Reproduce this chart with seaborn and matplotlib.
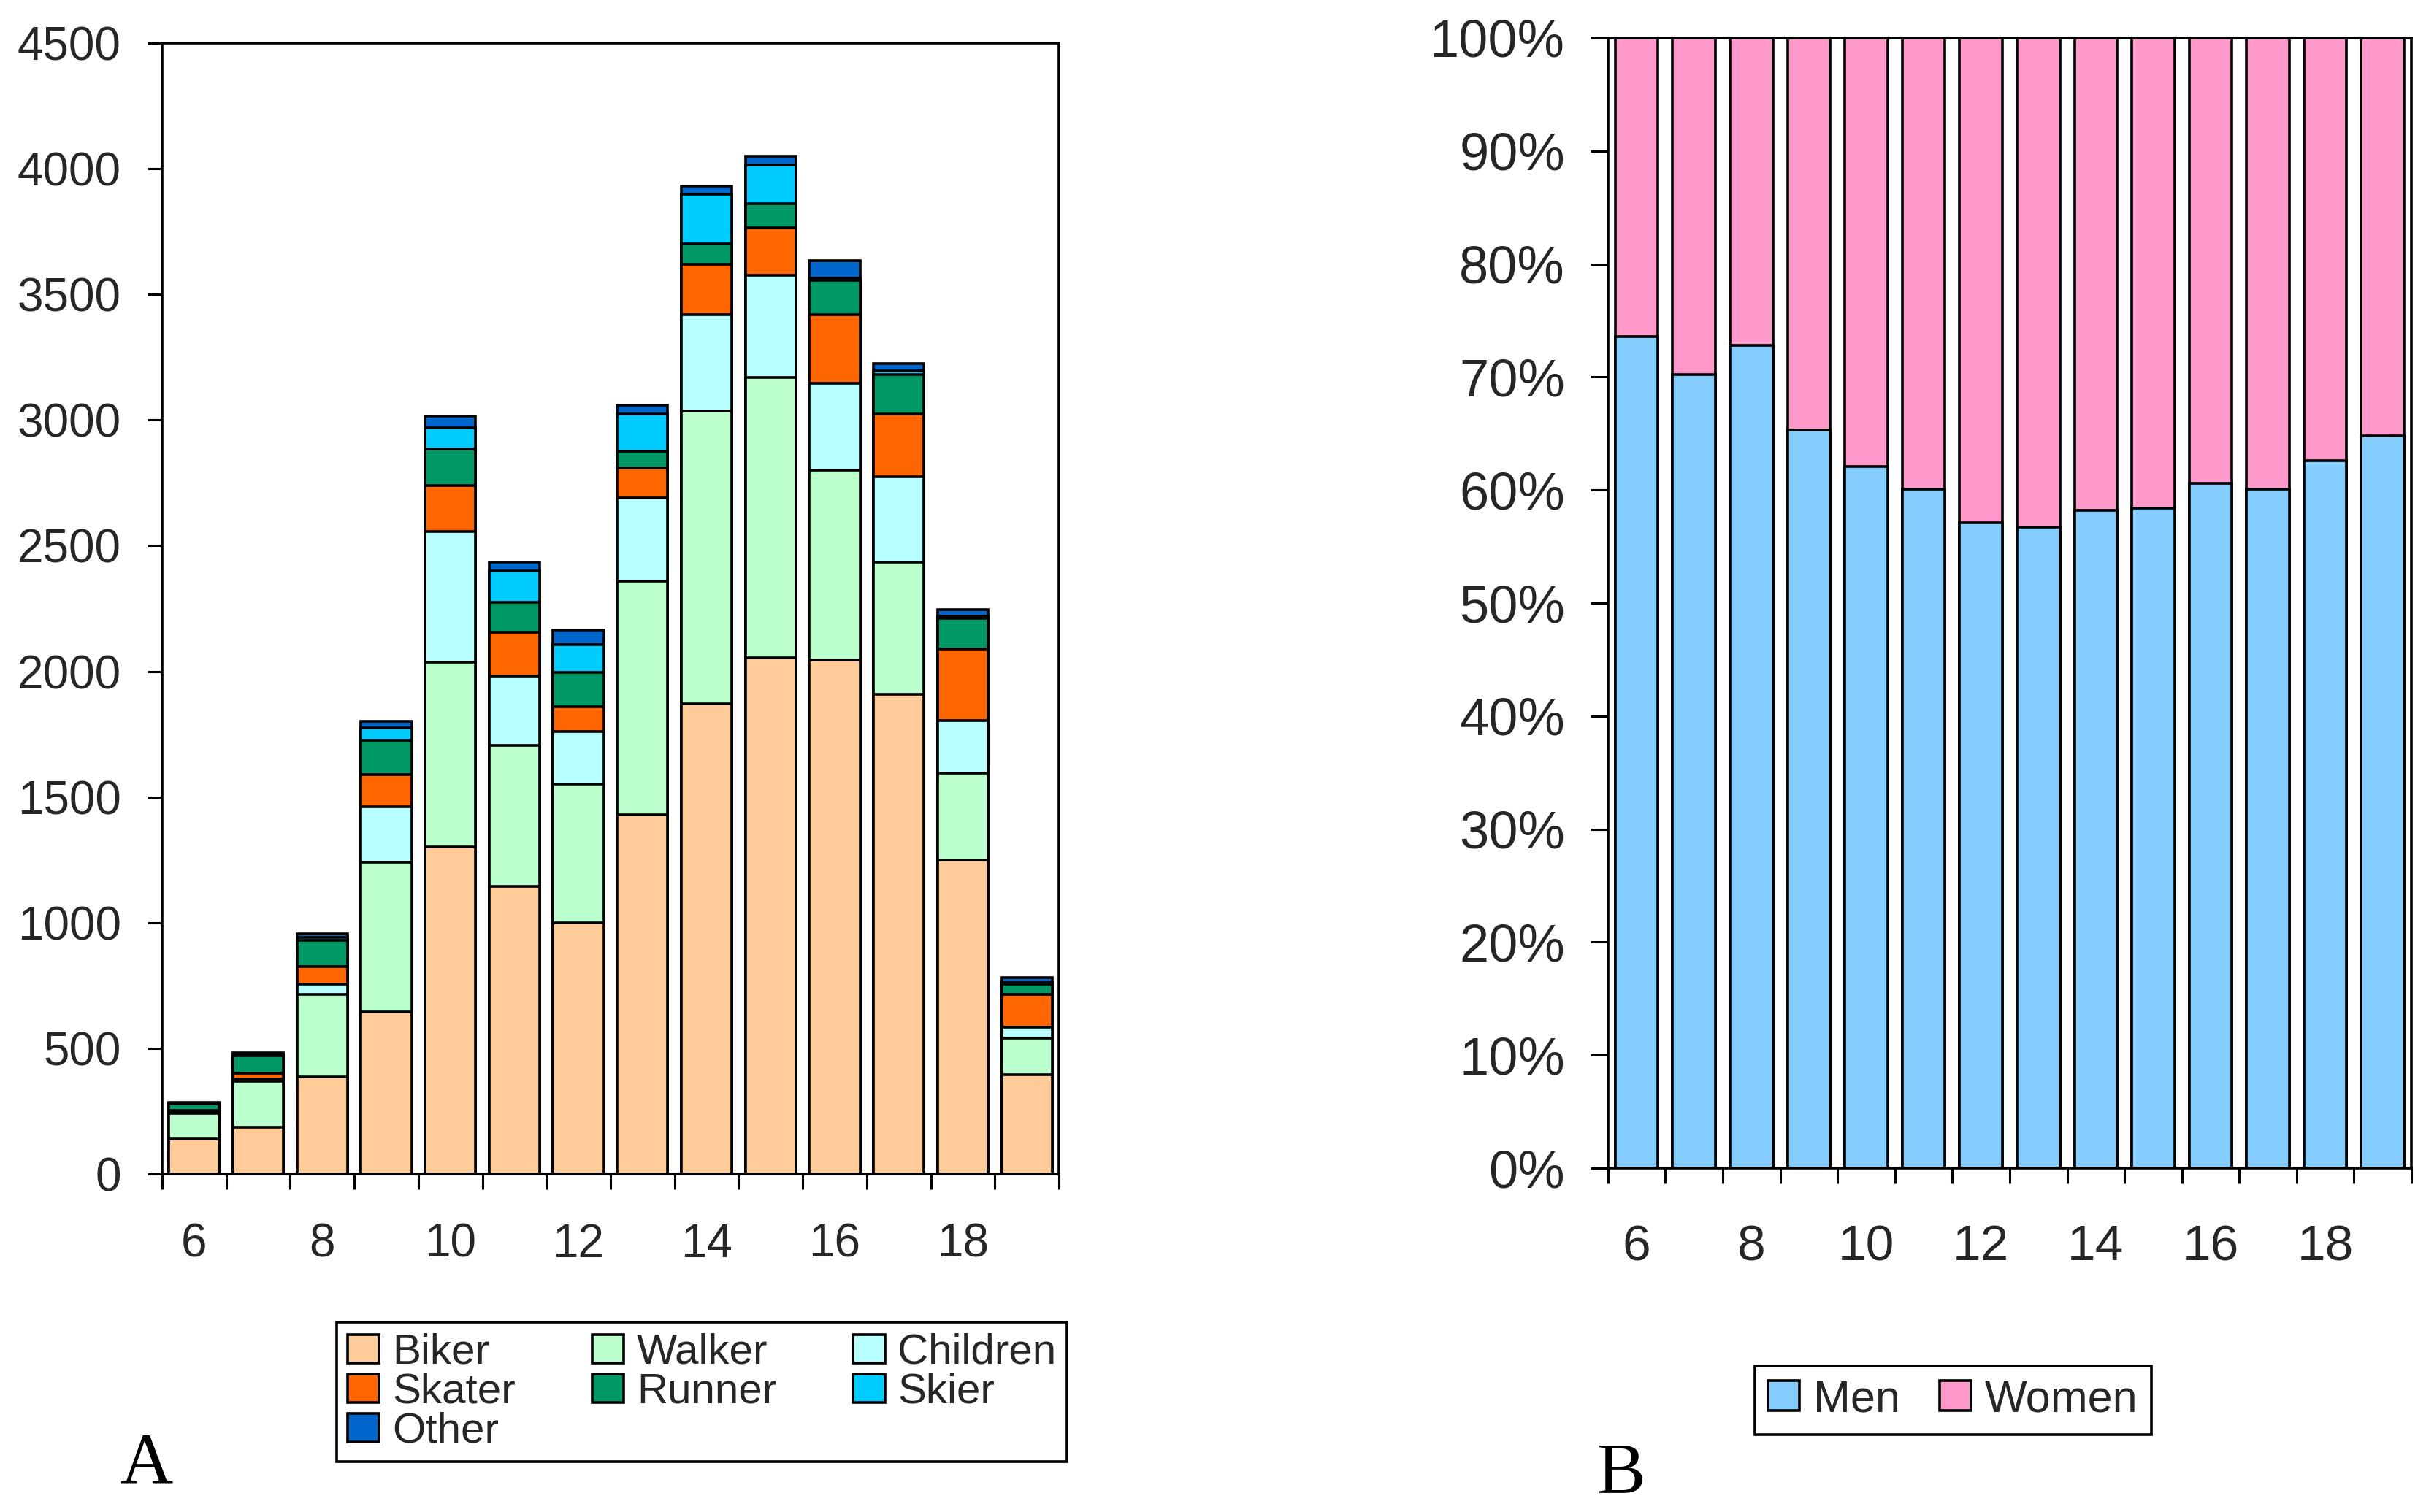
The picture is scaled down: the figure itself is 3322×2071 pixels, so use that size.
import numpy as np
import matplotlib
matplotlib.use("Agg")
import matplotlib.pyplot as plt
import seaborn as sns
from matplotlib.patches import Patch

# ---------------- data ----------------
hours = [6, 7, 8, 9, 10, 11, 12, 13, 14, 15, 16, 17, 18, 19]
hour_labels = [str(h) for h in hours]
shown_hour_labels = ["6", "8", "10", "12", "14", "16", "18"]

categories = ["Biker", "Walker", "Children", "Skater", "Runner", "Skier", "Other"]
biker    = [140, 185, 385, 645, 1300, 1145, 1000, 1430, 1870, 2055, 2045, 1910, 1250, 395]
walker   = [100, 185, 330, 595,  735,  560,  550,  930, 1165, 1115,  755,  525,  345, 145]
children = [  5,   8,  40, 220,  520,  275,  210,  330,  385,  405,  345,  340,  210,  45]
skater   = [  7,  24,  70, 130,  185,  175,  100,  120,  200,  190,  275,  250,  285, 130]
runner   = [ 26,  67, 105, 135,  145,  120,  135,   65,   80,   95,  135,  155,  120,  40]
skier    = [  2,   4,  10,  50,   85,  125,  110,  150,  200,  155,   10,   15,   10,   5]
other    = [  4,   8,  15,  25,   45,   35,   60,   35,   30,   35,   70,   30,   25,  20]
cat_colors = ["#FFCC99", "#BBFFCC", "#B8FFFF", "#FF6600", "#009966", "#00CCFF", "#0066CC"]

yticks_A = [0, 500, 1000, 1500, 2000, 2500, 3000, 3500, 4000, 4500]

sex_groups = ["Men", "Women"]
men   = [73.6, 70.2, 72.8, 65.3, 62.1, 60.1, 57.1, 56.7, 58.2, 58.4, 60.6, 60.1, 62.6, 64.8]
women = [26.4, 29.8, 27.2, 34.7, 37.9, 39.9, 42.9, 43.3, 41.8, 41.6, 39.4, 39.9, 37.4, 35.2]
sex_colors = ["#85CDFF", "#FF99CC"]
yticks_B = [0, 10, 20, 30, 40, 50, 60, 70, 80, 90, 100]
yticklabels_B = [f"{v}%" for v in yticks_B]

# ---------------- style ----------------
sns.set_theme(style="white")
plt.rcParams["font.family"] = ["Liberation Sans", "DejaVu Sans"]
plt.rcParams["axes.edgecolor"] = "black"
plt.rcParams["axes.linewidth"] = 1.3

fig = plt.figure(figsize=(16.61, 10.355), dpi=200)
axA = fig.add_axes([0.0668, 0.2236, 0.3697, 0.7479])
axB = fig.add_axes([0.6628, 0.2274, 0.3312, 0.7475])

EDGE_LW = 1.3

# ---------------- panel A: stacked counts ----------------
series = [biker, walker, children, skater, runner, skier, other]
cum = np.cumsum(np.array(series, dtype=float), axis=0)
for i in reversed(range(len(series))):
    sns.barplot(x=hour_labels, y=cum[i], order=hour_labels, color=cat_colors[i],
                saturation=1, edgecolor="black", linewidth=EDGE_LW, width=0.79,
                errorbar=None, ax=axA)

axA.set_xlim(-0.5, len(hours) - 0.5)
axA.set_ylim(0, 4500)
axA.set_yticks(yticks_A)
axA.set_yticklabels([str(v) for v in yticks_A])
axA.set_xticks(np.arange(-0.5, len(hours), 1.0))
axA.set_xticklabels([])
axA.set_xticks([hour_labels.index(s) for s in shown_hour_labels], labels=shown_hour_labels, minor=True)
axA.tick_params(axis="x", which="major", direction="out", length=7.5, width=1.1, bottom=True, color="black")
axA.tick_params(axis="x", which="minor", length=0, pad=24, labelsize=23, bottom=True)
axA.tick_params(axis="y", direction="out", length=7.2, width=1.1, left=True, pad=13, labelsize=23, color="black")
axA.set_xlabel("")
axA.set_ylabel("")
for sp in axA.spines.values():
    sp.set_visible(True)
    sp.set_color("black")
    sp.set_linewidth(1.3)

# ---------------- panel B: 100% stacked ----------------
cumB = np.cumsum(np.array([men, women], dtype=float), axis=0)
for i in reversed(range(2)):
    sns.barplot(x=hour_labels, y=cumB[i], order=hour_labels, color=sex_colors[i],
                saturation=1, edgecolor="black", linewidth=EDGE_LW, width=0.745,
                errorbar=None, ax=axB)

axB.set_xlim(-0.5, len(hours) - 0.5)
axB.set_ylim(0, 100)
axB.set_yticks(yticks_B)
axB.set_yticklabels(yticklabels_B)
axB.set_xticks(np.arange(-0.5, len(hours), 1.0))
axB.set_xticklabels([])
axB.set_xticks([hour_labels.index(s) for s in shown_hour_labels], labels=shown_hour_labels, minor=True)
axB.tick_params(axis="x", which="major", direction="out", length=7.5, width=1.1, bottom=True, color="black")
axB.tick_params(axis="x", which="minor", length=0, pad=27.5, labelsize=25, bottom=True)
axB.tick_params(axis="y", direction="out", length=8.6, width=1.1, left=True, pad=12.6, labelsize=26, color="black")
axB.set_xlabel("")
axB.set_ylabel("")
for sp in axB.spines.values():
    sp.set_visible(True)
    sp.set_color("black")
    sp.set_linewidth(1.3)

# ---------------- legends ----------------
handlesA = [Patch(facecolor=c, edgecolor="black", linewidth=EDGE_LW) for c in cat_colors]
# column-major order so rows read Biker Walker Children / Skater Runner Skier / Other
orderA = [0, 3, 6, 1, 4, 2, 5]
legA = fig.legend([handlesA[k] for k in orderA], [categories[k] for k in orderA],
                  loc="upper left", bbox_to_anchor=(0.1388, 0.1255), ncol=3,
                  frameon=True, fancybox=False, edgecolor="black", framealpha=1,
                  fontsize=21, handlelength=0.75, handleheight=0.65, handletextpad=0.3,
                  labelspacing=0.0, columnspacing=1.8, borderpad=0.25, borderaxespad=0)
legA.get_frame().set_linewidth(1.3)

handlesB = [Patch(facecolor=c, edgecolor="black", linewidth=EDGE_LW) for c in sex_colors]
legB = fig.legend(handlesB, sex_groups, loc="upper left", bbox_to_anchor=(0.7234, 0.0966),
                  ncol=2, frameon=True, fancybox=False, edgecolor="black", framealpha=1,
                  fontsize=22, handlelength=0.7, handleheight=0.65, handletextpad=0.3,
                  columnspacing=0.9, borderpad=0.3, borderaxespad=0)
legB.get_frame().set_linewidth(1.3)

fig.text(0.0497, 0.0193, "A", family=["Liberation Serif", "DejaVu Serif"], fontsize=36,
         ha="left", va="baseline", color="black")
fig.text(0.658, 0.013, "B", family=["Liberation Serif", "DejaVu Serif"], fontsize=36,
         ha="left", va="baseline", color="black")

fig.savefig("out.png", dpi=200, facecolor="white")
